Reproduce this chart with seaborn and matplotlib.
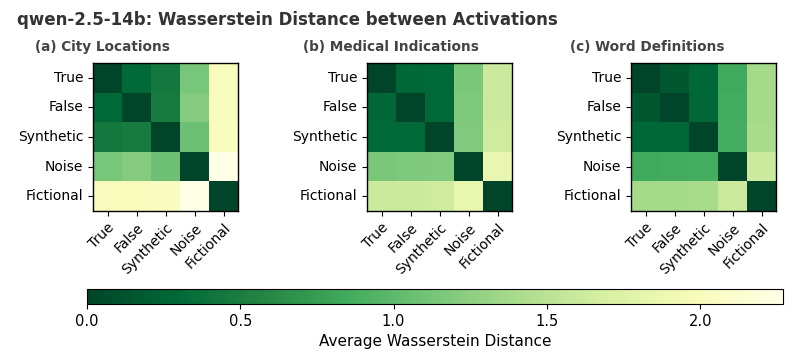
import numpy as np
import pandas as pd
import matplotlib
matplotlib.use("Agg")
import matplotlib.pyplot as plt
import seaborn as sns

labels = ["True", "False", "Synthetic", "Noise", "Fictional"]
titles = ["(a) City Locations", "(b) Medical Indications", "(c) Word Definitions"]

# distances (matrices are symmetric)
city = [
    [0.00, 0.30, 0.45, 1.13, 2.00],
    [0.30, 0.00, 0.47, 1.20, 2.00],
    [0.45, 0.47, 0.00, 1.08, 2.02],
    [1.13, 1.20, 1.08, 0.00, 2.27],
    [2.00, 2.00, 2.02, 2.27, 0.00],
]
medical = [
    [0.00, 0.28, 0.30, 1.15, 1.62],
    [0.28, 0.00, 0.30, 1.17, 1.62],
    [0.30, 0.30, 0.00, 1.18, 1.63],
    [1.15, 1.17, 1.18, 0.00, 1.85],
    [1.62, 1.62, 1.63, 1.85, 0.00],
]
word = [
    [0.00, 0.15, 0.28, 0.85, 1.38],
    [0.15, 0.00, 0.28, 0.86, 1.38],
    [0.28, 0.28, 0.00, 0.87, 1.40],
    [0.85, 0.86, 0.87, 0.00, 1.62],
    [1.38, 1.38, 1.40, 1.62, 0.00],
]

mats = [city, medical, word]
vmax = max(np.max(m) for m in mats)

W, H = 792, 362
fig = plt.figure(figsize=(W / 100, H / 100), dpi=100)

# axes boxes in pixels: left, top, width, height
boxes = [(93, 63, 145, 148), (367, 63, 145, 148), (631, 63, 145, 148)]
title_x = [35, 303, 570]

axes = []
for (l, t, w, h) in boxes:
    axes.append(fig.add_axes([l / W, (H - t - h) / H, w / W, h / H]))

for ax, m, t, tx in zip(axes, mats, titles, title_x):
    df = pd.DataFrame(m, index=labels, columns=labels)
    sns.heatmap(df, ax=ax, cmap="YlGn_r", vmin=0, vmax=vmax, cbar=False,
                square=False, linewidths=0)
    for s in ax.spines.values():
        s.set_visible(True)
        s.set_linewidth(1.0)
    ax.set_xticklabels(labels, rotation=45, ha="right", rotation_mode="anchor",
                       fontsize=10)
    ax.set_yticklabels(labels, rotation=0, fontsize=10)
    ax.tick_params(length=3.5)
    fig.text(tx / W, 1 - 47 / H, t, fontsize=9.8, fontweight="bold",
             color="#444444", va="center", ha="left")

fig.text(0.022, 1 - 20 / H, "qwen-2.5-14b: Wasserstein Distance between Activations",
         fontsize=12, fontweight="bold", color="#333333", va="center")

cax = fig.add_axes([87 / W, (H - 304) / H, 696 / W, 15 / H])
cb = fig.colorbar(axes[0].collections[0], cax=cax, orientation="horizontal")
cb.set_ticks([0.0, 0.5, 1.0, 1.5, 2.0])
cb.ax.tick_params(labelsize=10.5)
cb.set_label("Average Wasserstein Distance", fontsize=11)

fig.savefig("out.png", dpi=100)
